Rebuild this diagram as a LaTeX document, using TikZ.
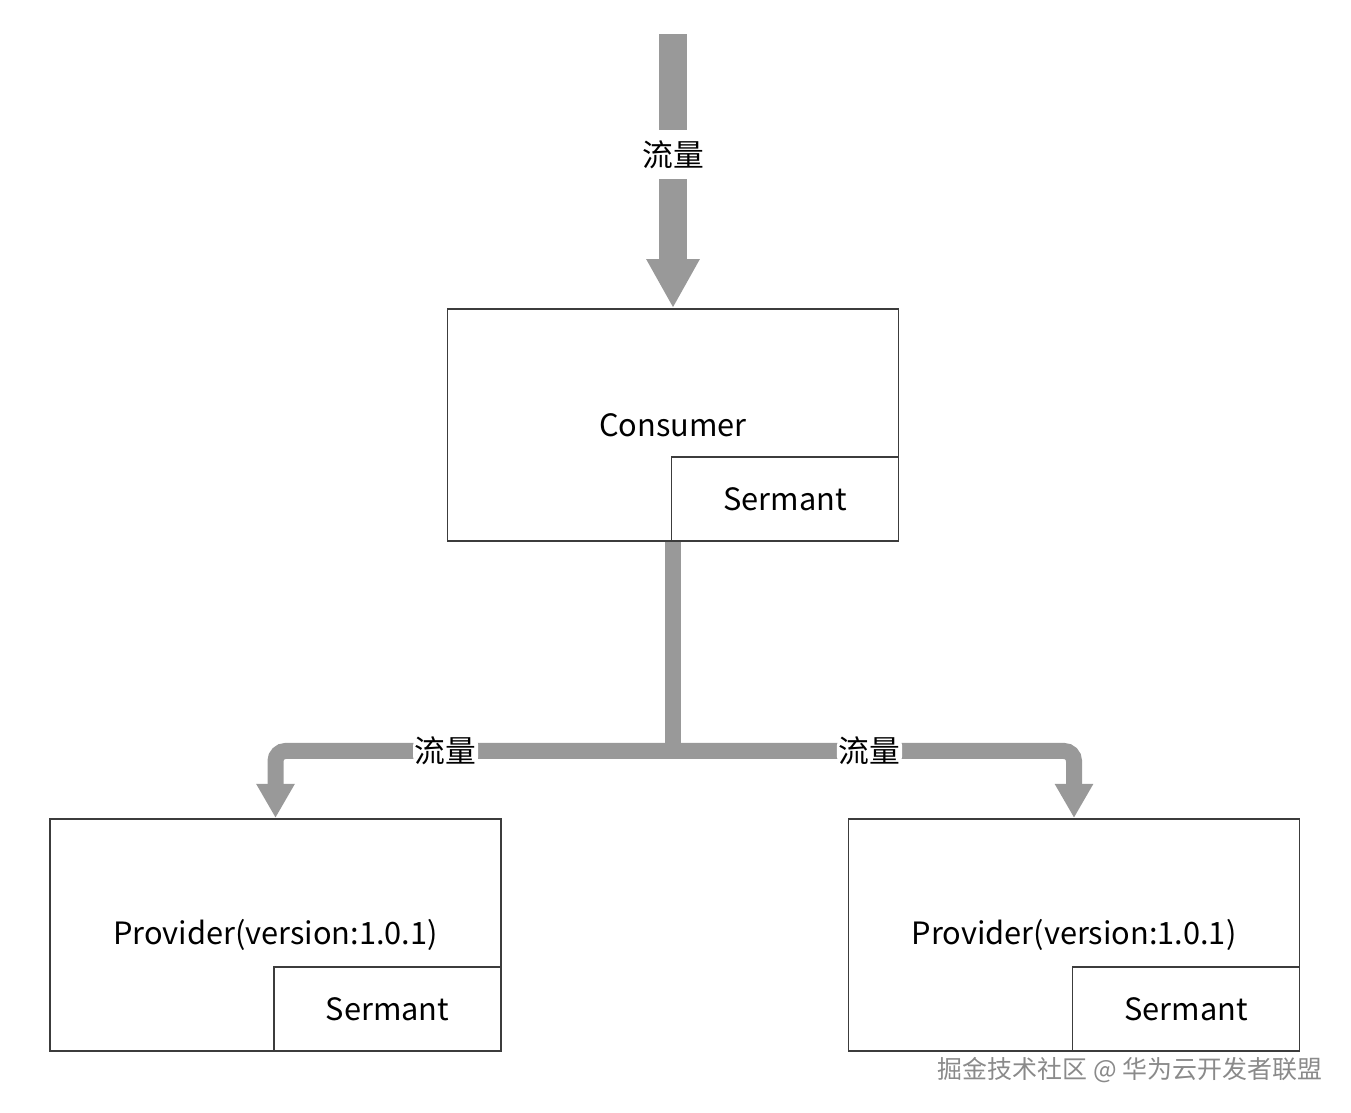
\documentclass[tikz,border=0pt]{standalone}
\usepackage{fontspec}
\setmainfont{Noto Sans CJK SC}
\usepackage{xcolor}
\usepackage{tikz}
\usetikzlibrary{positioning, arrows.meta}
\definecolor{flowgray}{HTML}{999999}
\definecolor{boxgray}{HTML}{3C3C3C}
\definecolor{markgray}{HTML}{8A8A8A}

\begin{document}
\begin{tikzpicture}[
  box/.style={
    rectangle, draw=boxgray, line width=1.1pt, fill=white,
    minimum width=9.02cm, minimum height=4.64cm,
    font=\fontsize{17.5}{20}\selectfont, inner sep=0pt
  },
  agent/.style={
    rectangle, draw=boxgray, line width=1.1pt, fill=white,
    minimum width=4.54cm, minimum height=1.68cm,
    font=\fontsize{17.5}{20}\selectfont, inner sep=0pt, anchor=south east
  },
  inflow/.style={
    draw=flowgray, line width=0.56cm,
    -{Triangle[length=0.98cm, width=1cm]}
  },
  flow/.style={draw=flowgray, line width=0.32cm},
  branch/.style={
    flow, rounded corners=0.2cm,
    -{Triangle[length=0.68cm, width=0.72cm]}
  },
  tag/.style={fill=white, inner sep=1pt, font=\fontsize{17.5}{20}\selectfont},
]
\useasboundingbox (0,0) rectangle (27.02,-22.24);

% Consumer (top)
\node[box] (consumer) at (13.46,-8.5) {Consumer};
\node[agent] (consumersermant) at (consumer.south east) {Sermant};

% Providers
\node[box, below=5.52cm of consumer, xshift=-7.95cm] (providerl) {Provider(version:1.0.1)};
\node[agent] (providerlsermant) at (providerl.south east) {Sermant};

\node[box, below=5.52cm of consumer, xshift=8.02cm] (providerr) {Provider(version:1.0.1)};
\node[agent] (providerrsermant) at (providerr.south east) {Sermant};

% Traffic
\coordinate[above=5.48cm of consumer.north] (source);
\coordinate[below=4.18cm of consumer.south] (fork);

\draw[inflow] (source) -- node[tag, pos=0.44, inner ysep=6pt] {流量} (consumer.north);
\draw[flow] (consumer.south) -- (fork);
\draw[branch] (fork) -| node[tag, pos=0.286] {流量} (providerl.north);
\draw[branch] (fork) -| node[tag, pos=0.245] {流量} (providerr.north);

% Watermark
\node[text=markgray, font=\fontsize{14.2}{17}\selectfont] (mark) at (22.6,-21.4)
  {掘金技术社区 @ 华为云开发者联盟};

\end{tikzpicture}
\end{document}
